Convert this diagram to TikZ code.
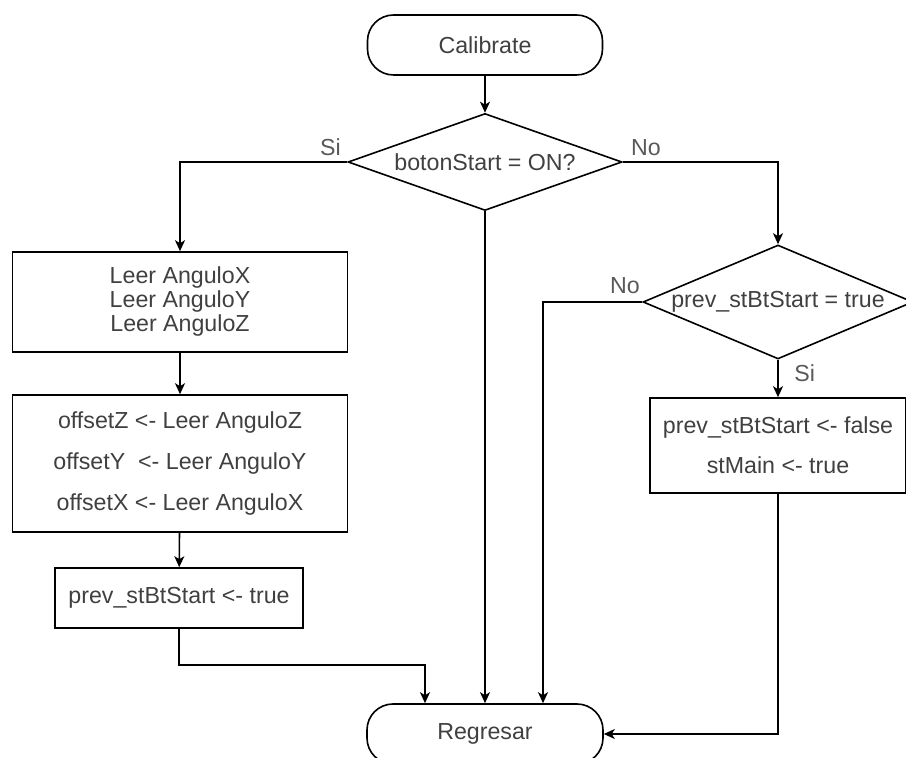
\documentclass[tikz,border=0pt]{standalone}
\usepackage{fontspec}
\setmainfont{Liberation Sans}
\usetikzlibrary{shapes.geometric,arrows.meta}
\begin{document}
\begin{tikzpicture}[x=0.5pt,y=-0.5pt,
  every node/.style={font=\fontsize{11.6}{12}\selectfont, text=black!75, inner sep=0pt},
  line/.style={draw=black, line width=0.8pt},
  arr/.style={line, -{Stealth[length=5.5pt,width=5pt,inset=1.5pt]}},
  terminal/.style={line, rounded corners=13pt, minimum width=#1, minimum height=30pt},
  procbox/.style={line, rectangle, align=center},
  decision/.style={line, diamond, aspect=2.6},
  lbl/.style={font=\fontsize{11.6}{12}\selectfont, text=black!65}
]
\useasboundingbox (0,0) rectangle (906,758);
\clip (0,0) rectangle (906,758);

% start / end terminals
\node[terminal=117.5pt] (cal) at (485,45) {Calibrate};
\node[terminal=118pt, minimum height=30pt] (reg) at (485,734) {Regresar};

% first decision
\node[decision, minimum width=137pt, minimum height=48.5pt] (d1) at (485,162) {botonStart = ON?};

% left branch
\node[procbox, minimum width=167.5pt, minimum height=50pt,
      font=\fontsize{11.6}{12}\selectfont] (b1) at (180,302)
  {Leer AnguloX\\Leer AnguloY\\Leer AnguloZ};
\node[procbox, minimum width=167.5pt, minimum height=68.5pt,
      font=\fontsize{11.6}{20.5}\selectfont] (b2) at (180,463.5)
  {offsetZ <- Leer AnguloZ\\offsetY\ \ <- Leer AnguloY\\offsetX <- Leer AnguloX};
\node[procbox, minimum width=124pt, minimum height=30pt] (b3) at (179,598)
  {prev\_stBtStart <- true};

% right branch
\node[decision, minimum width=135pt, minimum height=57pt] (d2) at (778,302) {prev\_stBtStart = true};
\node[procbox, minimum width=128pt, minimum height=47.5pt,
      font=\fontsize{11.6}{20}\selectfont] (b4) at (778,445.5)
  {prev\_stBtStart <- false\\stMain <- true};

% entry points on top of the end terminal
\coordinate (r1) at ([xshift=-30pt]reg.north);
\coordinate (r3) at ([xshift=29pt]reg.north);
\coordinate (j1) at (0,665);

% connectors
\draw[arr] (cal) -- (d1);
\draw[arr] (d1.west) -| (b1.north);
\draw[arr] (d1.east) -| (d2.north);
\draw[arr] (d1.south) -- (reg.north);
\draw[arr] (b1) -- (b2);
\draw[arr] (b2) -- (b3);
\draw[arr] (b3.south) -- (b3.south |- j1) -| (r1);
\draw[arr] (d2.west) -| (r3);
\draw[arr] (d2.south) -- (b4.north);
\draw[arr] (b4.south) |- (reg.east);

% branch labels
\node[lbl, anchor=south east] (l1) at ([xshift=-3pt,yshift=3pt]d1.west) {Si};
\node[lbl, anchor=south west] (l2) at ([xshift=4pt,yshift=3pt]d1.east) {No};
\node[lbl, anchor=south east] (l3) at ([xshift=-1pt,yshift=4pt]d2.west) {No};
\node[lbl, anchor=north west] (l4) at ([xshift=8pt,yshift=-2pt]d2.south) {Si};
\end{tikzpicture}
\end{document}
